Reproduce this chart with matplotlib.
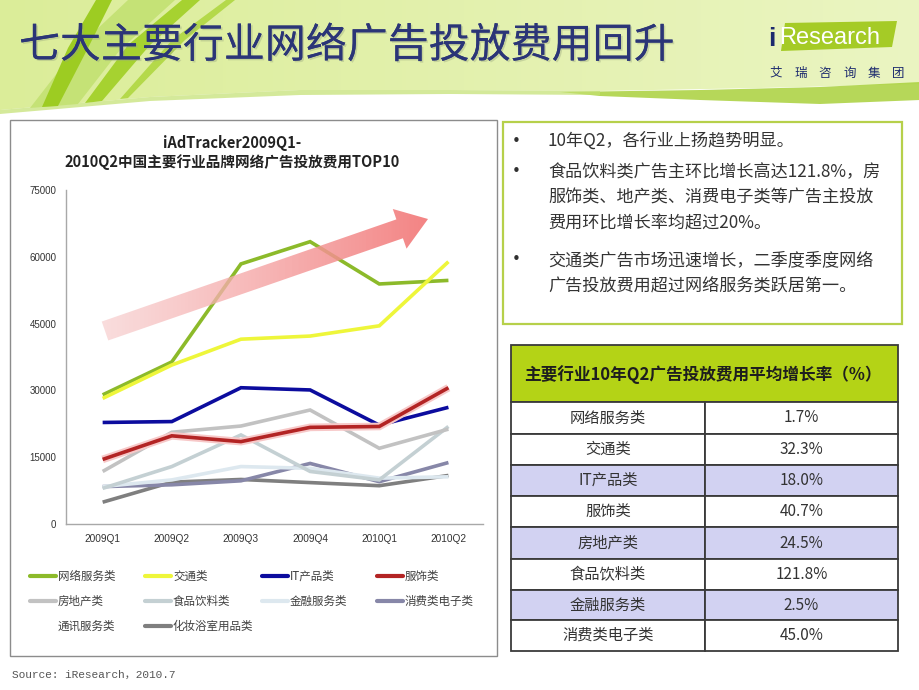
import numpy as np
import matplotlib
matplotlib.use('Agg')
import matplotlib.pyplot as plt
from matplotlib.patches import Polygon, Rectangle
from matplotlib.lines import Line2D
import matplotlib.patheffects as pe

plt.rcParams['font.family'] = ['Noto Sans CJK SC', 'DejaVu Sans']

# ---------------- data ----------------
quarters = ['2009Q1', '2009Q2', '2009Q3', '2009Q4', '2010Q1', '2010Q2']
series_names = ['网络服务类', '交通类', 'IT产品类', '服饰类', '房地产类',
                '食品饮料类', '金融服务类', '消费类电子类', '通讯服务类', '化妆浴室用品类']
net_service = [29000, 36400, 58400, 63400, 53900, 54700]
traffic = [28200, 35700, 41500, 42200, 44500, 58900]
it_products = [22800, 23000, 30600, 30100, 22200, 26200]
apparel = [14500, 19800, 18500, 21700, 21900, 30600]
real_estate = [11800, 20600, 22000, 25600, 17000, 21300]
food_drink = [8000, 12900, 20000, 11800, 9900, 21900]
finance = [8400, 9900, 12900, 12500, 10300, 10600]
consumer_elec = [8400, 8800, 9700, 13600, 9500, 13800]
telecom = None  # line not visible in the reference
cosmetics = [4900, 9400, 10000, 9300, 8600, 10900]
yticks = [0, 15000, 30000, 45000, 60000, 75000]

table_title = '主要行业10年Q2广告投放费用平均增长率（%）'
table_rows = ['网络服务类', '交通类', 'IT产品类', '服饰类', '房地产类',
              '食品饮料类', '金融服务类', '消费类电子类']
table_rates = ['1.7%', '32.3%', '18.0%', '40.7%', '24.5%', '121.8%', '2.5%', '45.0%']

bullets = [
    (True, '10年Q2，各行业上扬趋势明显。'),
    (True, '食品饮料类广告主环比增长高达121.8%，房'),
    (False, '服饰类、地产类、消费电子类等广告主投放'),
    (False, '费用环比增长率均超过20%。'),
    (True, '交通类广告市场迅速增长，二季度季度网络'),
    (False, '广告投放费用超过网络服务类跃居第一。'),
]

series_values = [net_service, traffic, it_products, apparel, real_estate,
                 food_drink, finance, consumer_elec, telecom, cosmetics]
series_colors = ['#8cba2a', '#eef63a', '#0c0c9e', '#b32424', '#c2c2c2',
                 '#c4d0d3', '#dde8ef', '#8787a8', '#ffffff', '#7f7f7f']
draw_order = [9, 7, 6, 5, 4, 2, 3, 0, 1]

# ---------------- figure ----------------
W, H = 920, 690
fig = plt.figure(figsize=(9.2, 6.9), dpi=100)
fig.patch.set_facecolor('white')

bg = fig.add_axes([0, 0, 1, 1], zorder=0)
bg.set_xlim(0, W); bg.set_ylim(H, 0); bg.axis('off')

# header gradient
hx = np.linspace(0, 1, 256)
c0 = np.array([0.86, 0.93, 0.60]); c1 = np.array([0.92, 0.96, 0.76])
grad = (c0[None, :] * (1 - hx[:, None]) + c1[None, :] * hx[:, None])[None, :, :]
header_poly = Polygon([(0, 0), (920, 0), (920, 84), (760, 88), (600, 91), (450, 90),
                       (300, 90), (150, 97), (0, 110)], closed=True,
                      facecolor='none', edgecolor='none')
bg.add_patch(header_poly)
im = bg.imshow(grad, extent=(0, 920, 115, 0), aspect='auto', zorder=1)
im.set_clip_path(header_poly)
bg.set_xlim(0, W); bg.set_ylim(H, 0)

# darker green band at right bottom of header
bg.add_patch(Polygon([(560, 92), (700, 90), (820, 87), (920, 82), (920, 100),
                      (820, 104), (700, 100), (600, 96)], closed=True,
                     facecolor='#a9d13c', edgecolor='none', alpha=0.85, zorder=2))
bg.add_patch(Polygon([(0, 110), (150, 97), (300, 90), (450, 90), (600, 91), (600, 95),
                      (450, 94), (300, 95), (150, 101), (0, 114)], closed=True,
                     facecolor='#c3e070', edgecolor='none', alpha=0.7, zorder=2))

# left swooshes
bg.add_patch(Polygon([(30, 108), (78, 104), (120, 50), (175, 0), (128, 0), (75, 50)],
                     closed=True, facecolor='#c5e276', edgecolor='none', zorder=2))
bg.add_patch(Polygon([(42, 107), (58, 106), (88, 48), (112, 0), (96, 0), (68, 48)],
                     closed=True, facecolor='#9dcc22', edgecolor='none', zorder=3))
bg.add_patch(Polygon([(85, 103), (102, 101), (150, 45), (200, 0), (182, 0), (128, 45)],
                     closed=True, facecolor='#a6d230', edgecolor='none', zorder=3))
bg.add_patch(Polygon([(120, 99), (128, 98), (185, 40), (235, 0), (226, 0), (172, 40)],
                     closed=True, facecolor='#b4d94a', edgecolor='none', zorder=3))

# title
bg.text(19, 46, '七大主要行业网络广告投放费用回升', fontsize=29.5, color='#2b3577',
        va='center', ha='left', zorder=5,
        path_effects=[pe.withSimplePatchShadow(offset=(1.2, -1.2), shadow_rgbFace='#9aa880', alpha=0.4),
                      pe.Normal()])

# logo
bg.add_patch(Polygon([(785, 23), (897, 21), (892, 47), (781, 51)], closed=True,
                     facecolor='#a5cb26', edgecolor='none', zorder=4))
bg.text(768, 39, 'i', fontsize=19, color='#1c2a6e', fontweight='bold',
        family='Liberation Sans', va='center', ha='left', zorder=5)
bg.text(779, 38, 'Research', fontsize=17, color='white', family='Liberation Sans',
        va='center', ha='left', zorder=5)
for i, ch in enumerate('艾瑞咨询集团'):
    bg.text(776 + i * 24.5, 73, ch, fontsize=9, color='#1c2a6e', va='center',
            ha='center', zorder=5)

# left panel frame
bg.add_patch(Rectangle((10, 120), 487, 536, facecolor='white', edgecolor='#8c8c8c',
                       lw=1, zorder=2))
bg.text(232, 143, 'iAdTracker2009Q1-', fontsize=10.5, fontweight='bold', color='#222222',
        ha='center', va='center', zorder=3)
bg.text(232, 162, '2010Q2中国主要行业品牌网络广告投放费用TOP10', fontsize=10.5,
        fontweight='bold', color='#222222', ha='center', va='center', zorder=3)

# legend (manual grid)
leg_cols = [30, 145, 262, 377]
leg_rows = [576, 601, 626]
for k, name in enumerate(series_names):
    r, c = divmod(k, 4)
    x0, y0 = leg_cols[c], leg_rows[r]
    bg.add_line(Line2D([x0, x0 + 26], [y0, y0], color=series_colors[k], lw=3,
                       solid_capstyle='round', zorder=3))
    bg.text(x0 + 28, y0, name, fontsize=8.3, color='#404040', va='center', ha='left',
            zorder=3)

# source
bg.text(12, 675, 'Source: iResearch，2010.7', fontsize=8,
        family=['Liberation Mono', 'Noto Sans CJK SC'], color='#555555',
        va='center', ha='left', zorder=3)

# right text box
bg.add_patch(Rectangle((503, 122), 399, 202, facecolor='white', edgecolor='#b6d04a',
                       lw=1.6, zorder=2))
line_y = [141, 172, 198, 224, 260, 287]
for (has_b, txt), y in zip(bullets, line_y):
    if has_b:
        bg.text(516, y, '•', fontsize=11, color='#303030', va='center', ha='center',
                family='DejaVu Sans', zorder=3)
    bg.text(548, y, txt, fontsize=12.3, color='#333333', va='center', ha='left', zorder=3)

# table
tx0, tx1, tmid = 511, 898, 705
bg.add_patch(Rectangle((tx0, 345), tx1 - tx0, 57, facecolor='#b4d316', edgecolor='#3a3a3a',
                       lw=1.3, zorder=2))
bg.text(524, 375, table_title, fontsize=12, fontweight='bold', color='#1e1e1e',
        va='center', ha='left', zorder=3)
row_edges = [402, 434, 465, 496, 527, 559, 590, 620, 651]
row_fill = ['white', 'white', '#d2d2f2', 'white', '#d2d2f2', 'white', '#d2d2f2', 'white']
for i, (name, rate) in enumerate(zip(table_rows, table_rates)):
    ya, yb = row_edges[i], row_edges[i + 1]
    bg.add_patch(Rectangle((tx0, ya), tmid - tx0, yb - ya, facecolor=row_fill[i],
                           edgecolor='#3a3a3a', lw=1.3, zorder=2))
    bg.add_patch(Rectangle((tmid, ya), tx1 - tmid, yb - ya, facecolor=row_fill[i],
                           edgecolor='#3a3a3a', lw=1.3, zorder=2))
    yc = (ya + yb) / 2
    bg.text((tx0 + tmid) / 2, yc, name, fontsize=11, color='#333333', ha='center',
            va='center', zorder=3)
    bg.text((tmid + tx1) / 2, yc, rate, fontsize=11, color='#333333', ha='center',
            va='center', zorder=3)

# ---------------- chart ----------------
ax_l, ax_r, ax_b, ax_t = 66, 483, 524, 190
ax = fig.add_axes([ax_l / W, (H - ax_b) / H, (ax_r - ax_l) / W, (ax_b - ax_t) / H],
                  zorder=1)
ax.patch.set_alpha(0)
xs = np.arange(len(quarters))
for k in draw_order:
    vals = series_values[k]
    if vals is None:
        continue
    effects = None
    if k == 3:
        effects = [pe.Stroke(linewidth=5.5, foreground='#f7c8c8'), pe.Normal()]
    ax.plot(xs, vals, color=series_colors[k], lw=2.6, solid_joinstyle='miter',
            solid_capstyle='butt', path_effects=effects)
ax.set_xlim(-0.53, 5.5)
ax.set_ylim(0, 75000)
ax.set_yticks(yticks)
ax.set_yticklabels([str(v) for v in yticks], family='Liberation Sans', fontsize=7,
                   color='#333333')
ax.set_xticks(xs)
ax.set_xticklabels(quarters, family='Liberation Sans', fontsize=7.3, color='#333333')
ax.tick_params(length=0)
ax.tick_params(axis='y', pad=7)
ax.tick_params(axis='x', pad=7)
for s in ['top', 'right']:
    ax.spines[s].set_visible(False)
for s in ['left', 'bottom']:
    ax.spines[s].set_color('#a8a8a8')
    ax.spines[s].set_linewidth(1)

# ---------------- foreground arrow ----------------
fg = fig.add_axes([0, 0, 1, 1], zorder=2)
fg.patch.set_alpha(0)
fg.set_xlim(0, W); fg.set_ylim(H, 0); fg.axis('off')
tail = np.array([105.0, 331.0]); tip = np.array([428.0, 219.0])
u = (tip - tail) / np.linalg.norm(tip - tail)
n = np.array([-u[1], u[0]])
sw, hw, hl = 10.0, 21.0, 30.0
neck = tip - u * hl
pts = [tail + n * sw, neck + n * sw, neck + n * hw, tip, neck - n * hw, neck - n * sw,
       tail - n * sw]
arrow = Polygon(pts, closed=True, facecolor='none', edgecolor='none')
fg.add_patch(arrow)
ag = np.linspace(0, 1, 256)
a0 = np.array([0.97, 0.82, 0.82, 0.7]); a1 = np.array([0.95, 0.45, 0.45, 0.92])
agrad = (a0[None, :] * (1 - ag[:, None]) + a1[None, :] * ag[:, None])[None, :, :]
aim = fg.imshow(agrad, extent=(95, 445, 355, 190), aspect='auto', zorder=3)
aim.set_clip_path(arrow)
fg.set_xlim(0, W); fg.set_ylim(H, 0)

fig.savefig('out.png', dpi=100, facecolor='white')
